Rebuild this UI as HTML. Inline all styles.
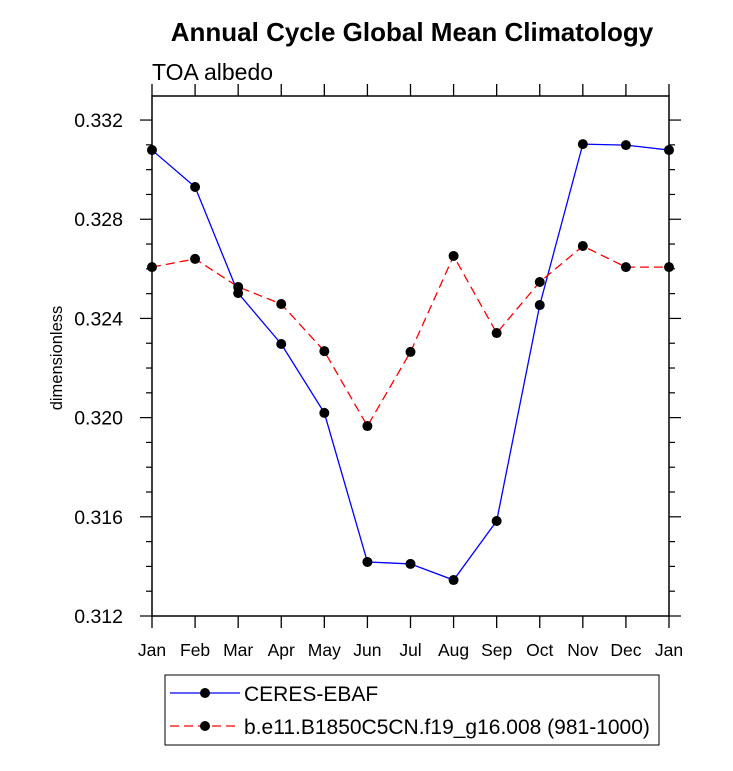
<!DOCTYPE html>
<html><head><meta charset="utf-8"><style>
body{margin:0;background:#fff;font-family:"Liberation Sans",sans-serif}
</style></head><body>
<svg id="c" width="733" height="766" xmlns="http://www.w3.org/2000/svg" font-family="Liberation Sans, sans-serif">
<text x="412" y="41" text-anchor="middle" font-size="26" font-weight="bold">Annual Cycle Global Mean Climatology</text>
<text x="152" y="80" font-size="23">TOA albedo</text>
<text transform="translate(62,358) rotate(-90)" text-anchor="middle" font-size="16.5">dimensionless</text>
<g id="axes"></g>
<g id="series"></g>
<g>
<rect x="165" y="675" width="494" height="70" fill="#fff" stroke="#000" stroke-width="1"/>
<line x1="170" y1="693" x2="240" y2="693" stroke="#0000ff" stroke-width="1.3"/>
<circle cx="205" cy="693" r="5" fill="#000"/>
<text x="244" y="701" font-size="21">CERES-EBAF</text>
<line x1="170" y1="726" x2="240" y2="726" stroke="#ff0000" stroke-width="1.3" stroke-dasharray="9,5"/>
<circle cx="205" cy="726" r="5" fill="#000"/>
<text x="244" y="734" font-size="21">b.e11.B1850C5CN.f19_g16.008 (981-1000)</text>
</g>
</svg>
<script>
const months=["Jan","Feb","Mar","Apr","May","Jun","Jul","Aug","Sep","Oct","Nov","Dec","Jan"];
const ceres=[0.33079,0.3293,0.32502,0.32297,0.32019,0.31418,0.3141,0.31345,0.31583,0.32454,0.33103,0.33099,0.33079];
const model=[0.32607,0.3264,0.32527,0.32458,0.32268,0.31966,0.32265,0.32652,0.32341,0.32547,0.32692,0.32607,0.32607];
const yTicks=[0.312,0.316,0.320,0.324,0.328,0.332];
const L=152,R=669,T=96,B=616,ymin=0.312,ymax=0.33297;
const NS="http://www.w3.org/2000/svg";
const xs=i=>L+(R-L)*i/(months.length-1);
const ys=v=>B-(v-ymin)/(ymax-ymin)*(B-T);
function mk(tag,at,p){const e=document.createElementNS(NS,tag);for(const k in at)e.setAttribute(k,at[k]);p.appendChild(e);return e;}
const ax=document.getElementById('axes');
const fr=mk('rect',{x:L,y:T,width:R-L,height:B-T,fill:'none',stroke:'#000','stroke-width':1.5},ax);


months.forEach((m,i)=>{const x=xs(i);
mk('line',{x1:x,y1:B,x2:x,y2:B+12,stroke:'#000','stroke-width':1.3},ax);
mk('line',{x1:x,y1:T,x2:x,y2:T-12,stroke:'#000','stroke-width':1.3},ax);
const t=mk('text',{x:x,y:B+40,'text-anchor':'middle','font-size':17.5},ax);t.textContent=m;

});
for(let v=ymin;v<=ymax+1e-9;v+=0.001){const y=ys(v);const maj=Math.abs(((v-ymin)/0.004)-Math.round((v-ymin)/0.004))<1e-6;const len=maj?12:6;
mk('line',{x1:L,y1:y,x2:L-len,y2:y,stroke:'#000','stroke-width':1.2},ax);
mk('line',{x1:R,y1:y,x2:R+len,y2:y,stroke:'#000','stroke-width':1.2},ax);}
yTicks.forEach(v=>{const t=mk('text',{x:L-29,y:ys(v)+7,'text-anchor':'end','font-size':19.5},ax);t.textContent=v.toFixed(3);

});
const sg=document.getElementById('series');
function draw(d,col,dash,name){const pl=mk('polyline',{points:d.map((v,i)=>xs(i)+','+ys(v)).join(' '),fill:'none',stroke:col,'stroke-width':1.3},sg);
if(dash)pl.setAttribute('stroke-dasharray',dash);


d.forEach((v,i)=>{const c=mk('circle',{cx:xs(i),cy:ys(v),r:5,fill:'#000'},sg);

});}
draw(ceres,'#0000ff',null,'ceres');
draw(model,'#ff0000','9,5','model');
</script>
</body></html>
